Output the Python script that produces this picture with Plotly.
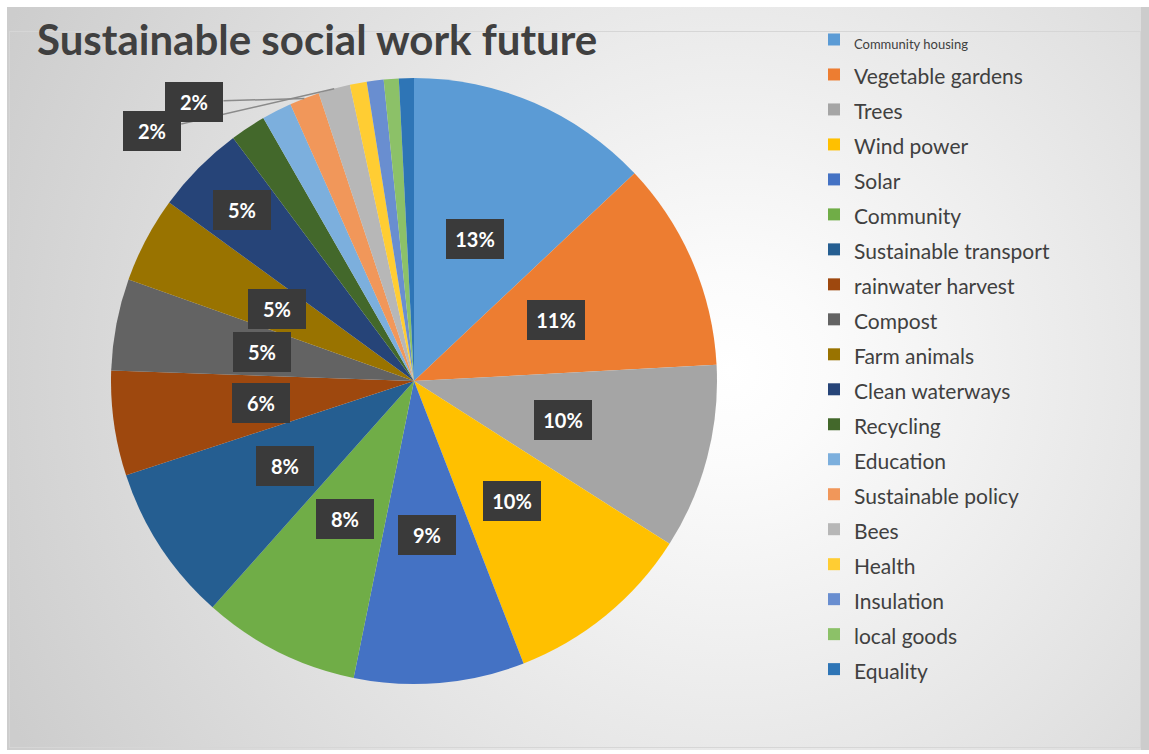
import base64
import math
import plotly.graph_objects as go

# ---------------- data ----------------
categories = [
    "Community housing", "Vegetable gardens", "Trees", "Wind power", "Solar",
    "Community", "Sustainable transport", "rainwater harvest", "Compost",
    "Farm animals", "Clean waterways", "Recycling", "Education",
    "Sustainable policy", "Bees", "Health", "Insulation", "local goods", "Equality",
]
shares = [13.0, 11.2, 9.9, 10.1, 9.1, 8.4, 8.4, 5.6, 4.9, 4.6, 4.8,
          1.9, 1.6, 1.6, 1.7, 0.9, 0.9, 0.8, 0.8]
labelled = [
    "Community housing", "Vegetable gardens", "Trees", "Wind power", "Solar",
    "Community", "Sustainable transport", "rainwater harvest", "Compost",
    "Farm animals", "Clean waterways", "Sustainable policy", "Bees",
]
colors = [
    "#5B9BD5", "#ED7D31", "#A5A5A5", "#FFC000", "#4472C4", "#70AD47",
    "#255E91", "#9E480E", "#636363", "#997300", "#264478", "#43682B",
    "#7CAFDD", "#F1975A", "#B7B7B7", "#FFCD33", "#698ED0", "#8CC168", "#2E75B6",
]
title_text = "Sustainable social work future"

# ---------------- layout geometry ----------------
W, H = 1149, 754
CX, CY, R = 414, 381, 303  # pie centre / radius in pixels

dom_x = [(CX - R) / W, (CX + R) / W]
dom_y = [1 - (CY + R) / H, 1 - (CY - R) / H]

legend_names = [
    f"<span style='font-size:13px'>{c}</span>" if i == 0
    else f"<span style='font-size:21px'>{c}</span>"
    for i, c in enumerate(categories)
]

fig = go.Figure(
    go.Pie(
        labels=legend_names,
        values=shares,
        sort=False,
        direction="clockwise",
        rotation=0,
        marker=dict(colors=colors, line=dict(width=0)),
        textinfo="none",
        hoverinfo="label+percent",
        domain=dict(x=dom_x, y=dom_y),
    )
)

# ---------------- data labels (computed from the values) ----------------
total = sum(shares)
inner_r = {"Clean waterways": 0.80}
outside = {"Sustainable policy": (-110, 3), "Bees": (-182, 42)}
annotations = []
cum = 0.0
mids = {}
for c, v in zip(categories, shares):
    mids[c] = (cum + v / 2) / total * 2 * math.pi
    cum += v

box = dict(
    bgcolor="#3a3a3a",
    font=dict(family="Lato", size=20, color="white"),
    width=44, height=26, borderpad=7, borderwidth=0,
    xref="paper", yref="paper", xanchor="center", yanchor="middle",
)
order = [c for c in labelled if c not in outside] + [c for c in ["Bees", "Sustainable policy"] if c in labelled]
for c in order:
    v = shares[categories.index(c)]
    txt = f"<b>{round(v / total * 100)}%</b>"
    th = mids[c]
    if c in outside:
        px = CX + R * math.sin(th)
        py = CY - R * math.cos(th)
        ax, ay = outside[c]
        annotations.append(dict(
            text=txt, x=px / W, y=1 - py / H, showarrow=True, arrowhead=0,
            arrowwidth=1.5, arrowcolor="#8a8a8a", ax=ax, ay=ay, **box))
    else:
        rr = inner_r.get(c, 0.51) * R
        px = CX + rr * math.sin(th)
        py = CY - rr * math.cos(th)
        annotations.append(dict(text=txt, x=px / W, y=1 - py / H, showarrow=False, **box))

# ---------------- background (radial gradient frame) ----------------
svg = f"""<svg xmlns='http://www.w3.org/2000/svg' width='{W}' height='{H}' viewBox='0 0 {W} {H}'>
<defs><radialGradient id='g' gradientUnits='userSpaceOnUse' cx='730' cy='370' r='800'>
<stop offset='0' stop-color='#ffffff'/><stop offset='0.12' stop-color='#fbfbfb'/>
<stop offset='1' stop-color='#cdcdcd'/></radialGradient></defs>
<rect x='0' y='0' width='{W}' height='{H}' fill='#ffffff'/>
<rect x='7' y='7' width='1136' height='743' fill='url(#g)'/>
<rect x='1141' y='7' width='8' height='743' fill='#cccccc'/>
<rect x='9.5' y='31.5' width='1131' height='716' fill='none' stroke='#d6d6d6' stroke-width='1'/>
</svg>"""
src = "data:image/svg+xml;base64," + base64.b64encode(svg.encode()).decode()

fig.update_layout(
    width=W, height=H,
    margin=dict(l=0, r=0, t=0, b=0),
    paper_bgcolor="white",
    images=[dict(source=src, xref="paper", yref="paper", x=0, y=1,
                 sizex=1, sizey=1, xanchor="left", yanchor="top",
                 sizing="stretch", layer="below")],
    title=dict(
        text=f"<b>{title_text}</b>", x=37 / W, xanchor="left",
        y=1 - 40 / H, yanchor="middle", xref="paper", yref="paper",
        font=dict(family="Lato", size=42, color="#404040"),
    ),
    showlegend=True,
    legend=dict(
        x=814 / W, xanchor="left", y=1 - 17 / H, yanchor="top",
        font=dict(family="Lato", size=24.6, color="#404040"),
        bgcolor="rgba(0,0,0,0)", traceorder="normal",
    ),
    annotations=annotations,
)

fig.write_html("out.html")
